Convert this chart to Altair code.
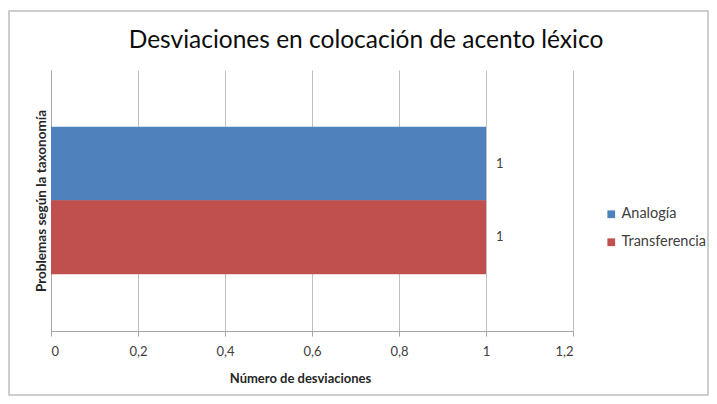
import altair as alt
import pandas as pd

series = ["Analogía", "Transferencia"]
values = [1, 1]
colors = ["#4F81BD", "#C0504D"]
x_ticks = [0, 0.2, 0.4, 0.6, 0.8, 1.0, 1.2]

df = pd.DataFrame({"serie": series, "valor": values})

FONT = "Lato"

x_enc = alt.X(
    "valor:Q",
    scale=alt.Scale(domain=[0, 1.2], nice=False),
    axis=alt.Axis(
        values=x_ticks,
        labelExpr="replace(format(datum.value, '.1~f'), '.', ',')",
        title="Número de desviaciones",
        titleFont=FONT, titleFontSize=13, titleFontWeight="bold", titleColor="#262626",
        titlePadding=14, titleX=249, titleAlign="center",
        labelFont=FONT, labelFontSize=13, labelColor="#404040", labelPadding=9,
        tickSize=5, tickColor="#A6A6A6",
        domainColor="#A6A6A6", grid=True, gridColor="#C0C0C0",
    ),
)
y_enc = alt.Y(
    "serie:N",
    sort=series,
    scale=alt.Scale(domain=series, paddingInner=0, paddingOuter=0.77),
    axis=alt.Axis(
        labels=False, ticks=False, domain=True, domainColor="#A6A6A6",
        title="Problemas según la taxonomía",
        titleFont=FONT, titleFontSize=13.5, titleFontWeight="bold", titleColor="#262626",
        titlePadding=3,
    ),
)

bars = alt.Chart(df).mark_bar(size=74).encode(
    x=x_enc,
    y=y_enc,
    color=alt.Color(
        "serie:N",
        scale=alt.Scale(domain=series, range=colors),
        legend=alt.Legend(
            title=None, orient="none", legendX=553, legendY=137,
            symbolType="square", symbolSize=60, symbolStrokeWidth=0,
            labelFont=FONT, labelFontSize=14.5, labelColor="#404040",
            labelOffset=3, rowPadding=13,
        ),
    ),
)

labels = alt.Chart(df).mark_text(
    align="left", baseline="middle", dx=10, font=FONT, fontSize=13, color="#404040"
).encode(
    x="valor:Q",
    y=alt.Y("serie:N", sort=series),
    text=alt.Text("valor:Q", format="d"),
)

frame = alt.Chart(df.head(1)).mark_rect(
    fill=None, fillOpacity=0, stroke="#BFBFBF", strokeWidth=1.5
).encode(
    x=alt.value(-42), x2=alt.value(657), y=alt.value(-59), y2=alt.value(325)
)

chart = alt.layer(frame, bars, labels).properties(
    width=522,
    height=261,
    padding={"left": 43, "top": 62, "right": 136, "bottom": 65},
    autosize=alt.AutoSizeParams(type="none"),
    title=alt.TitleParams(
        "Desviaciones en colocación de acento léxico",
        font=FONT, fontSize=24.5, fontWeight="normal", color="#0D0D0D",
        anchor="middle", dx=54, dy=63, offset=20,
    ),
).configure_view(stroke=None)

chart.save("out.html", embed_options={"renderer": "svg", "actions": False})
